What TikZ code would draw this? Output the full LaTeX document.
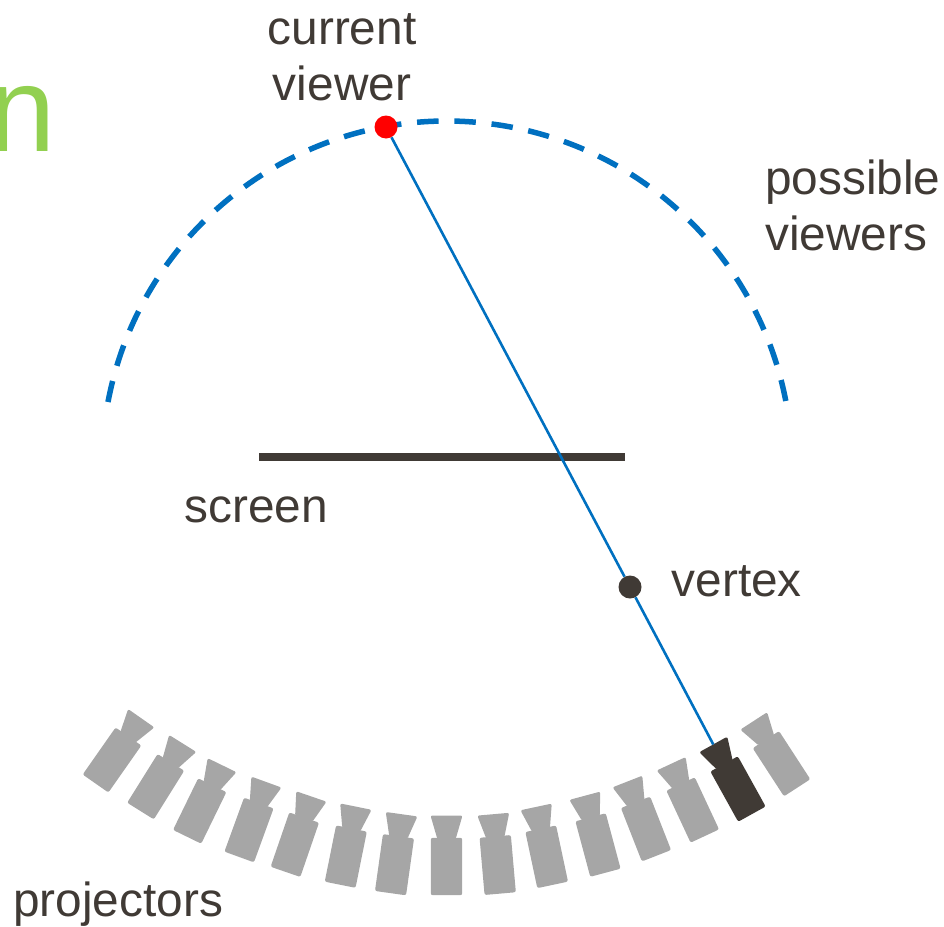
\documentclass[tikz,border=0pt]{standalone}
\usepackage{fontspec}
\setmainfont{Liberation Sans}
\definecolor{inkdark}{HTML}{403A35}
\definecolor{projgray}{HTML}{A6A6A6}
\definecolor{rayblue}{HTML}{0070C0}
\definecolor{titlegreen}{HTML}{92D050}
\tikzset{
  label text/.style={text=inkdark,inner sep=0pt,font=\fontsize{47.8}{56}\selectfont},
  dot/.style={circle,inner sep=0pt,minimum size=23pt},
  projector/.pic={
    \fill[pic actions,rounded corners=2pt] (-15.7,-28.7) rectangle (15.7,28.7);
    \fill[pic actions,rounded corners=2pt] (-16,-51) -- (16,-51) -- (9,-27) -- (-9,-27) -- cycle;
    \coordinate (-tip) at (0,-51);
  }
}
\begin{document}
\begin{tikzpicture}[x=1pt,y=-1pt]
\useasboundingbox (0,0) rectangle (944,926);
% clipped title letter
\node[anchor=base west,inner sep=0pt,text=titlegreen,font=\fontsize{121}{121}\selectfont] (title) at (-12,151) {n};
% possible viewers arc
\draw[rayblue,line width=5.5pt,dash pattern=on 21.5pt off 15.8pt] (108,402) arc[start angle=-169.3,end angle=-10.7,radius=345];
% screen
\coordinate (screenL) at (259,457);
\coordinate (screenR) at (624.5,457);
\draw[inkdark,line width=7.8pt] (screenL) -- (screenR);
% projectors
\foreach \px/\py/\pr in {112/760/-35,155.7/786.7/-32,199.7/811/-26,249/830/-20,294.8/844.7/-19,345.8/856.6/-11.4,394.5/864.7/-8,446.5/866.5/0,497.7/865/5,546.7/856.8/12,598/845/15,646/829/21.4,692.7/810/25,781.5/763.7/33}{
  \pic[fill=projgray,rotate=\pr] at (\px,\py) {projector};
}
\pic (active)[fill=inkdark,rotate=29] at (738,789) {projector};
% dots
\node[dot,fill=red] (viewer) at (386,127) {};
\node[dot,fill=inkdark] (vertex) at (630,587) {};
% ray
\draw[rayblue,line width=2.6pt] (viewer) -- (vertex);
\draw[rayblue,line width=2.6pt] (vertex) -- (active-tip);
% labels
\node[label text,anchor=base,align=center] (current) at (342,44) {current};
\node[label text,anchor=base,align=center] (viewerlab) at (342,100) {viewer};
\node[label text,anchor=base west] (possible) at (765,194) {possible};
\node[label text,anchor=base west] (viewers) at (765,250) {viewers};
\node[label text,anchor=base west] (screen) at (184.5,522) {screen};
\node[label text,anchor=base west] (vertexlab) at (671.5,596) {vertex};
\node[label text,anchor=base west] (projectors) at (13,916) {projectors};
\end{tikzpicture}
\end{document}
